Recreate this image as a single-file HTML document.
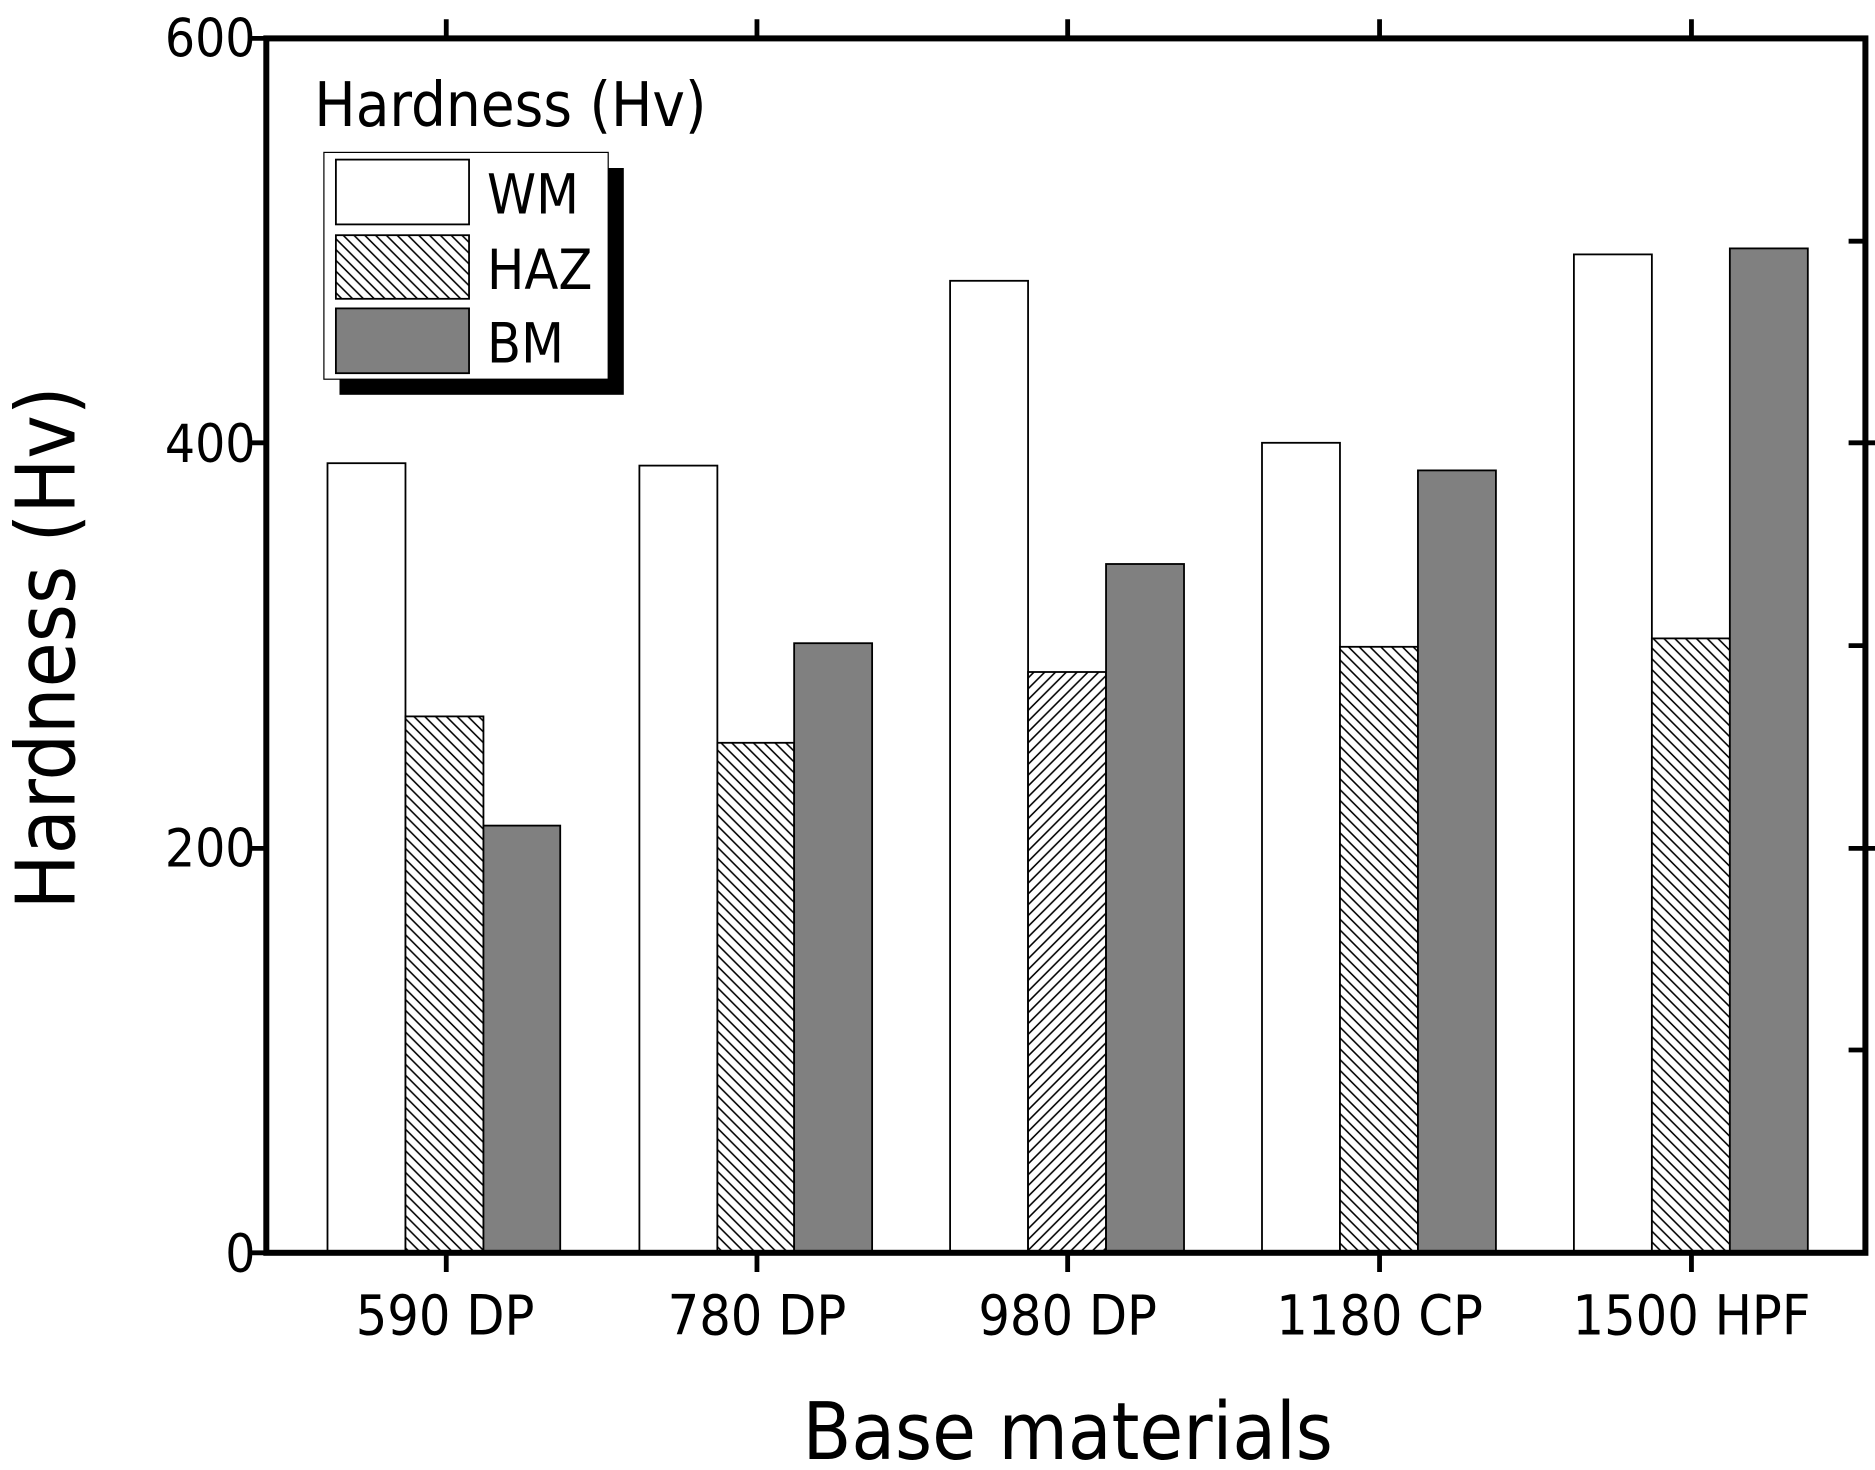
<!DOCTYPE html>
<html><head><style>html,body{margin:0;padding:0;background:#fff}svg{display:block}</style></head>
<body>
<svg width="1875" height="1470" viewBox="0 0 1563 1225" preserveAspectRatio="none" xmlns="http://www.w3.org/2000/svg" font-family="'DejaVu Sans Condensed','Liberation Sans',sans-serif">
<defs>
<pattern id="h" patternUnits="userSpaceOnUse" width="9" height="9">
<rect width="9" height="9" fill="#fff"/>
<path d="M-2,-2 L11,11 M-2,7 L2,11 M7,-2 L11,2" stroke="#000" stroke-width="1.3"/>
</pattern>
<pattern id="h2" patternUnits="userSpaceOnUse" width="9" height="9">
<rect width="9" height="9" fill="#fff"/>
<path d="M11,-2 L-2,11 M2,-2 L-2,2 M11,7 L7,11" stroke="#000" stroke-width="1.3"/>
</pattern>
</defs>
<g stroke="#000" stroke-width="1.5">
<rect x="273" y="386" width="65" height="658" fill="#fff"/>
<rect x="338" y="597" width="65" height="447" fill="url(#h)"/>
<rect x="403" y="688" width="64" height="356" fill="#808080"/>
<rect x="533" y="388" width="65" height="656" fill="#fff"/>
<rect x="598" y="619" width="64" height="425" fill="url(#h)"/>
<rect x="662" y="536" width="65" height="508" fill="#808080"/>
<rect x="792" y="234" width="65" height="810" fill="#fff"/>
<rect x="857" y="560" width="65" height="484" fill="url(#h2)"/>
<rect x="922" y="470" width="65" height="574" fill="#808080"/>
<rect x="1052" y="369" width="65" height="675" fill="#fff"/>
<rect x="1117" y="539" width="65" height="505" fill="url(#h)"/>
<rect x="1182" y="392" width="65" height="652" fill="#808080"/>
<rect x="1312" y="212" width="65" height="832" fill="#fff"/>
<rect x="1377" y="532" width="65" height="512" fill="url(#h)"/>
<rect x="1442" y="207" width="65" height="837" fill="#808080"/>
</g>
<rect x="283" y="140" width="237" height="189" fill="#000"/>
<rect x="270" y="127" width="237" height="189" fill="#fff" stroke="#000" stroke-width="1"/>
<g stroke="#000" stroke-width="1.5">
<rect x="280" y="133" width="111" height="54" fill="#fff"/>
<rect x="280" y="196" width="111" height="53" fill="url(#h)"/>
<rect x="280" y="257" width="111" height="54" fill="#808080"/>
</g>
<g font-size="46">
<text x="406" y="178">WM</text>
<text x="406" y="241">HAZ</text>
<text x="406" y="302">BM</text>
</g>
<text x="262" y="105" font-size="51">Hardness (Hv)</text>
<rect x="222" y="32" width="1333" height="1012" fill="none" stroke="#000" stroke-width="5"/>
<g stroke="#000" stroke-width="4">
<path d="M208,32H222M208,369H222M208,707H222M208,1044H222"/>
<path d="M1555,201H1541M1555,538H1541M1555,875H1541"/>
<path d="M1541,369H1569M1541,707H1569"/>
<path d="M372,32V16M631,32V16M890,32V16M1150,32V16M1410,32V16"/>
<path d="M372,1044V1060M631,1044V1060M890,1044V1060M1150,1044V1060M1410,1044V1060"/>
</g>
<g font-size="44" text-anchor="end">
<text x="213" y="47">600</text>
<text x="213" y="385">400</text>
<text x="213" y="722">200</text>
<text x="213" y="1060">0</text>
</g>
<g font-size="46" text-anchor="middle">
<text x="371" y="1112">590 DP</text>
<text x="631" y="1112">780 DP</text>
<text x="890" y="1112">980 DP</text>
<text x="1150" y="1112">1180 CP</text>
<text x="1410" y="1112">1500 HPF</text>
</g>
<text x="890" y="1216" font-size="66" text-anchor="middle">Base materials</text>
<text transform="translate(62,540) rotate(-90)" font-size="68" text-anchor="middle">Hardness (Hv)</text>
</svg>
</body></html>
